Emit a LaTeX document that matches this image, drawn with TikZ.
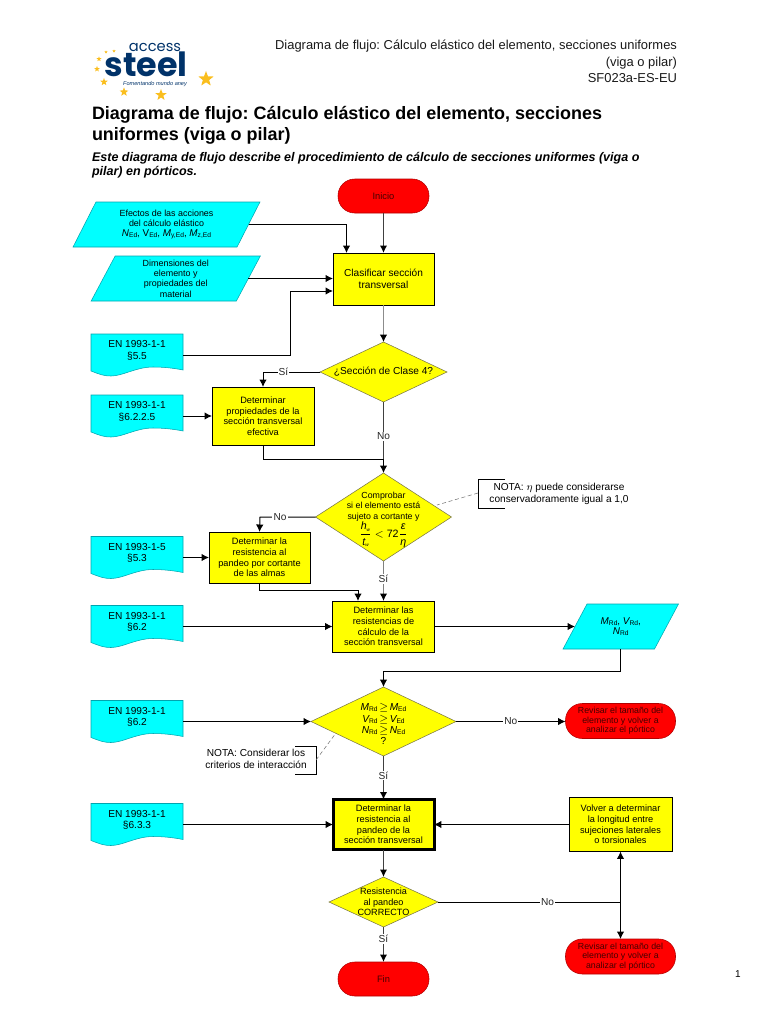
\documentclass[tikz,border=0pt]{standalone}
\usepackage{fontspec}
\setmainfont{Liberation Sans}
\newfontfamily\logofont{Poppins}
\usetikzlibrary{shapes.geometric,arrows.meta}
\pgfdeclarelayer{bg}
\pgfsetlayers{bg,main}
\frenchspacing
\definecolor{navy}{RGB}{0,50,105}
\definecolor{gold}{RGB}{250,190,30}
\definecolor{cyanf}{RGB}{0,255,255}
\definecolor{cyand}{RGB}{0,165,175}
\definecolor{yell}{RGB}{255,255,0}
\definecolor{dred}{RGB}{70,0,0}
\newcommand{\fz}[1]{\fontsize{#1}{#1}\selectfont}
\newcommand{\idx}[2]{{\itshape #1}\raisebox{-0.25ex}{\fz{5}#2}}
\newcommand{\rdx}[2]{#1\raisebox{-0.25ex}{\fz{5}#2}}
\newcommand{\frc}[2]{\mbox{$\displaystyle\frac{\mbox{\fz{8}\itshape #1}}{\mbox{\fz{8}\itshape #2}}$}}
% document shape: body node with a wavy lower edge behind it
\newcommand{\docnode}[3]{%
  \node[doc] (#1) at (#2) {#3};
  \begin{pgfonlayer}{bg}
  \path[fill=cyanf,draw=cyand,line width=0.4pt]
    (#1.north west) -- ([shift={(0,-5)}]#1.south west)
    .. controls ([shift={(8,-2)}]#1.south west) and ([shift={(12,0)}]#1.south west) .. ([shift={(20,0)}]#1.south west)
    .. controls ([shift={(32,0)}]#1.south west) and ([shift={(45,-9)}]#1.south west) .. ([shift={(62,-9)}]#1.south west)
    .. controls ([shift={(72,-9)}]#1.south west) and ([shift={(82,-8)}]#1.south west) .. ([shift={(92,-6)}]#1.south west)
    -- (#1.north east) -- cycle;
  \end{pgfonlayer}}
% parallelogram: node is the mid-slant rectangle, the slanted outline lies behind it
\newcommand{\paranode}[5]{%
  \node[minimum width=#3,minimum height=33.75pt,font=\fz{6.7}] (#1) at (#2) {#5};
  \begin{pgfonlayer}{bg}
  \path[fill=cyanf,draw=cyand,line width=0.4pt]
    ([xshift=#4]#1.north west) -- ([xshift=#4]#1.north east)
    -- ([xshift=-#4]#1.south east) -- ([xshift=-#4]#1.south west) -- cycle;
  \end{pgfonlayer}}
\tikzset{
  x=0.75pt,y=-0.75pt,
  every node/.style={inner sep=0pt,outer sep=0pt,align=center},
  conn/.style={draw=black,line width=0.75pt,-{Latex[length=5.6pt,width=5.6pt,color=black]}},
  plain/.style={draw=black,line width=0.75pt},
  vconn/.style={conn,draw=black!75,line width=1.1pt},
  vplain/.style={plain,draw=black!75,line width=1.1pt},
  dotl/.style={draw=black!55,line width=0.4pt,densely dashed},
  brk/.style={draw=black,line width=0.75pt},
  box/.style={rectangle,draw=black,fill=yell,line width=0.75pt},
  boxt/.style={font=\fz{6.9}},
  doc/.style={rectangle,minimum width=69pt,minimum height=31.5pt,font=\fz{7.6}},
  lab/.style={font=\fz{6.6},align=center},
  dia/.style={diamond,draw=black!60!yellow,fill=yell,line width=0.4pt},
  term/.style={rectangle,rounded corners=12.5pt,fill=red,draw=black!30!red,line width=0.4pt,font=\fz{6.6},text=dred},
  cl/.style={fill=white,font=\fz{7.6},inner xsep=0.8pt,inner ysep=0.8pt,text=black!85},
  star5/.style={star,star points=5,star point ratio=2.4,fill=gold,draw=none},
  note/.style={font=\fz{7.6}},
}
\begin{document}
\begin{tikzpicture}
\useasboundingbox (0,0) rectangle (768,1024);
% logo
\node[star5,minimum size=12pt] (s1) at (206,79) {};
\node[star5,minimum size=9pt] (s2) at (161,95) {};
\node[star5,minimum size=7pt] (s3) at (124,92) {};
\node[star5,minimum size=6pt] (s4) at (104,82) {};
\node[star5,minimum size=4.5pt] (s5) at (97,69) {};
\node[star5,minimum size=4pt] (s6) at (99,59) {};
\node[star5,minimum size=2.5pt] (s7) at (106,52) {};
\node[star5,minimum size=2.5pt] (s8) at (114,51) {};
\node[text=navy,font=\logofont\fz{11}] (la) at (155,47) {access};
\node[text=navy,font=\logofont\bfseries\fz{25},anchor=base] (lb) at (146,76) {steel};
\node[text=navy,font=\itshape\fz{4.2}] (lc) at (155,84) {Fomentando mundo aney};
% header
\node[anchor=north east,align=right,font=\fz{9.7},text=black!90] (hdr) at (677,40)
 {Diagrama de flujo: Cálculo elástico del elemento, secciones uniformes\\[2.7pt](viga o pilar)\\[2.7pt]SF023a-ES-EU};
\node[anchor=north west,align=left,font=\bfseries\fz{13.47}] (ttl) at (92,106)
 {Diagrama de flujo: Cálculo elástico del elemento, secciones\\[2.3pt]uniformes (viga o pilar)};
\node[anchor=north west,align=left,font=\bfseries\itshape\fz{9.4}] (sub) at (92,152)
 {Este diagrama de flujo describe el procedimiento de cálculo de secciones uniformes (viga o\\[1.1pt]pilar) en pórticos.};
\node[font=\fz{7.5}] (pg) at (738,974) {1};
% terminals
\node[term,font=\fz{7},minimum width=68.25pt,minimum height=25.5pt] (ini) at (383.5,196) {Inicio};
\node[term,font=\fz{7},minimum width=68.25pt,minimum height=25.5pt] (fin) at (383.5,979) {Fin};
\node[term,minimum width=82.5pt,minimum height=26.25pt] (rev1) at (620.5,721) {Revisar el tamaño del\\[0.5pt]elemento y volver a\\[0.5pt]analizar el pórtico};
\node[term,minimum width=82.5pt,minimum height=26.25pt] (rev2) at (620.5,956.5) {Revisar el tamaño del\\[0.5pt]elemento y volver a\\[0.5pt]analizar el pórtico};
% parallelograms
\paranode{p1}{166.5,224.5}{123pt}{8.6pt}{Efectos de las acciones\\[1pt]del cálculo elástico\\[1pt]{\fz{7.4}\idx{N}{Ed}, \rdx{V}{Ed}, \idx{M}{y,Ed}, \idx{M}{z,Ed}}}
\paranode{p2}{175.75,278.5}{108.9pt}{9pt}{Dimensiones del\\[1pt]elemento y\\[1pt]propiedades del\\[1pt]material}
\paranode{p3}{620.75,626.5}{68.6pt}{9pt}{\fz{7.4}\idx{M}{Rd}, \idx{V}{Rd},\\[1pt]\fz{7.4}\idx{N}{Rd}}
% documents
\docnode{d1}{137,355}{EN 1993-1-1\\[1.3pt]§5.5\\~}
\docnode{d2}{137,416}{EN 1993-1-1\\[1.3pt]§6.2.2.5\\~}
\docnode{d3}{137,557.5}{EN 1993-1-5\\[1.3pt]§5.3\\~}
\docnode{d4}{137,626.5}{EN 1993-1-1\\[1.3pt]§6.2\\~}
\docnode{d5}{137,721.5}{EN 1993-1-1\\[1.3pt]§6.2\\~}
\docnode{d6}{137,824.5}{EN 1993-1-1\\[1.3pt]§6.3.3\\~}
% boxes
\node[box,font=\fz{7.6},minimum width=75.75pt,minimum height=39pt] (b1) at (383.5,279) {Clasificar sección\\[1.5pt]transversal};
\node[box,boxt,minimum width=76.5pt,minimum height=43.5pt] (b2) at (263,416) {Determinar\\[1pt]propiedades de la\\[1pt]sección transversal\\[1pt]efectiva};
\node[box,boxt,minimum width=75.75pt,minimum height=38.25pt] (b3) at (259.5,557.5) {Determinar la\\[1pt]resistencia al\\[1pt]pandeo por cortante\\[1pt]de las almas};
\node[box,boxt,minimum width=76.5pt,minimum height=38.25pt] (b4) at (383.5,626.5) {Determinar las\\[1pt]resistencias de\\[1pt]cálculo de la\\[1pt]sección transversal};
\node[box,boxt,line width=2.25pt,minimum width=75.75pt,minimum height=37.5pt] (b5) at (383.5,824.5) {Determinar la\\[1pt]resistencia al\\[1pt]pandeo de la\\[1pt]sección transversal};
\node[box,boxt,minimum width=77.25pt,minimum height=40.5pt] (b6) at (620.5,824.5) {Volver a determinar\\[1pt]la longitud entre\\[1pt]sujeciones laterales\\[1pt]o torsionales};
% diamonds
\node[dia,minimum width=95.25pt,minimum height=45pt,label={[lab,font=\fz{7.6}]center:{¿Sección de Clase 4?}}] (q1) at (383.5,372) {};
\node[dia,minimum width=102pt,minimum height=66pt,label={[lab,yshift=-2.2pt]center:{Comprobar\\[1pt]si el elemento está\\[1pt]sujeto a cortante y\\[0pt]{\fz{8}$\frc{h\raisebox{-0.3ex}{\fz{3.5}w}}{t\raisebox{-0.3ex}{\fz{3.5}w}}<\mbox{72}\frc{ε}{η}$}}}] (q2) at (383.5,517) {};
\node[dia,minimum width=108.75pt,minimum height=51.75pt,label={[lab,yshift=-2pt,font=\fz{7.6}]center:{\idx{M}{Rd}\,$\geq$\,\idx{M}{Ed}\\[1pt]\idx{V}{Rd}\,$\geq$\,\idx{V}{Ed}\\[1pt]\idx{N}{Rd}\,$\geq$\,\idx{N}{Ed}\\[1pt]?}}] (q3) at (383.5,721.5) {};
\node[dia,minimum width=81.75pt,minimum height=37.5pt,label={[lab,font=\fz{6.8}]center:{Resistencia\\[1pt]al pandeo\\[1pt]CORRECTO}}] (q4) at (383.5,902) {};
% notes
\node[note] (n1) at (559,494) {NOTA: $\eta$ puede considerarse\\[1.5pt]conservadoramente igual a 1,0};
\node[note] (n2) at (256,759) {NOTA: Considerar los\\[1pt]criterios de interacción};
\draw[brk] (505,479) -- (478,479) -- (478,508) -- (505,508);
\draw[brk] (295,746) -- (316,746) -- (316,774) -- (295,774);
\coordinate (n1a) at (478,493);
\coordinate (q2a) at (437,505);
\coordinate (n2a) at (316,760);
\coordinate (q3a) at (336,733);
\draw[dotl] (n1a) -- (q2a);
\draw[dotl] (n2a) -- (q3a);
% connectors
\draw[vconn] (ini) -- (b1);
\draw[conn] (p1.east) -| ([xshift=-27.75pt]b1.north);
\draw[conn] (p2.east) -- (p2.east -| b1.west);
\coordinate (b1w) at (333,291);
\coordinate (b1k) at (290,291);
\draw[conn] (d1.east) -| (b1k) -- (b1w);
\draw[conn,draw=black!45] (b1) -- (q1);
\coordinate (k1) at (263,372);
\draw[conn] (q1.west) -- node[cl,pos=0.64]{Sí} (k1) -- (b2.north);
\draw[conn] (d2.east) -- (b2.west);
\coordinate (k2) at (383.5,459);
\draw[vplain] (q1.south) -- node[cl,pos=0.6]{No} (k2);
\draw[plain] (b2.south) |- (k2);
\draw[conn] (k2) -- (q2.north);
\coordinate (k3) at (260,517);
\draw[conn] (q2.west) -- node[cl,pos=0.64]{No} (k3) -- (b3.north);
\draw[conn] (d3.east) -- (b3.west);
\draw[conn,draw=black!50,line width=1pt] (q2.south) -- node[cl,pos=0.45]{Sí} (b4.north);
\coordinate (k4) at (358,590);
\coordinate (b4n) at (358,601);
\draw[conn] (b3.south) |- (k4) -- (b4n);
\draw[conn] (d4.east) -- (b4.west);
\draw[conn] (b4.east) -- (p3.west);
\coordinate (p3s) at (620.5,649);
\coordinate (k5) at (620.5,671);
\coordinate (k6) at (383.5,671);
\draw[plain] (p3s) -- (k5) -- (k6);
\draw[conn] (k6) -- (q3.north);
\draw[conn] (d5.east) -- (q3.west);
\draw[conn] (q3.east) -- node[cl,pos=0.5]{No} (q3.east -| rev1.west);
\draw[vconn] (q3.south) -- node[cl,pos=0.45]{Sí} (b5.north);
\draw[conn] (d6.east) -- (b5.west);
\draw[conn] (b6.west) -- (b5.east);
\draw[vconn] (b5.south) -- (q4.north);
\draw[vconn] (q4.south) -- node[cl,pos=0.35]{Sí} (fin.north);
\coordinate (j1) at (620.5,902);
\draw[plain] (q4.east) -- node[cl,pos=0.6]{No} (j1);
\draw[conn,{Latex[length=5.6pt,width=5.6pt]}-{Latex[length=5.6pt,width=5.6pt]}] (b6.south) -- (rev2.north);
\end{tikzpicture}
\end{document}
